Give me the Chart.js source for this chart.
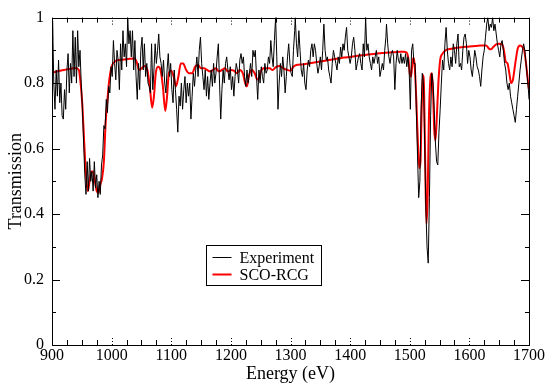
<!DOCTYPE html>
<html>
<head>
<meta charset="utf-8">
<script src="https://cdn.jsdelivr.net/npm/chart.js@4.4.1/dist/chart.umd.min.js"></script>
<style>
html,body{margin:0;padding:0;background:#fff;}
#wrap{width:550px;height:385px;position:relative;}
</style>
</head>
<body>
<div id="wrap"><canvas id="c" width="550" height="385"></canvas></div>
<script>
// ---- data ----
const expEnergy = [900,901,903,905,907,909,911,913,915,917,919,921,923,925,927,929,931,933,935,937,939,941,943,945,947,949,951,953,955,957,959,961,963,965,967,969,971,973,975,977,979,981,983,985,987,989,991,993,995,997,999,
1001,1003,1005,1007,1009,1011,1013,1015,1017,1019,1021,1023,1025,1027,1029,1031,1033,1035,1037,1039,1041,1043,1045,1047,1049,1051,1053,1055,1057,1059,1061,1063,1065,1067,1069,1071,1073,1075,1077,1079,1081,1083,1085,1087,1089,1091,1093,1095,1097,1099,
1101,1103,1105,1107,1109,1111,1113,1115,1117,1119,1121,1123,1125,1127,1129,1131,1133,1135,1137,1139,1141,1143,1145,1147,1149,1151,1153,1155,1157,1159,1161,1163,1165,1167,1169,1171,1173,1175,1177,1179,1181,1183,1185,1187,1189,1191,1193,1195,1197,1199,
1201,1203,1205,1207,1209,1211,1213,1215,1217,1219,1221,1223,1225,1227,1229,1231,1233,1235,1237,1239,1241,1243,1245,1247,1249,1251,1253,1255,1257,1259,1261,1263,1265,1267,1269,1271,1273,1275,1277,1279,1281,1283,1285,1287,1289,1291,1293,1295,1297,1299,
1301,1303,1305,1307,1308,1310,1312,1314,1316,1318,1320,1322,1324,1326,1328,1330,1332,1334,1336,1338,1340,1342,1344,1346,1348,1350,1352,1354,1356,1358,1360,1362,1364,1366,1368,1370,1372,1374,1376,1378,1380,1382,1384,1386,1388,1390,1392,1394,1396,1398,
1400,1402,1404,1406,1408,1410,1412,1414,1416,1418,1420,1422,1424,1426,1428,1430,1432,1434,1436,1438,1440,1442,1444,1446,1448,1450,1452,1454,1456,1458,1460,1461,1463,1465,1467,1469,1471,1473,1475,1477,1479,1481,1483,1485,1487,1489,1491,1493,1495,1497,1499,
1501,1503,1505,1507,1509,1511,1513,1515,1517,1519,1521,1523,1525,1527,1529,1531,1533,1535,1537,1539,1541,1543,1545,1547,1549,1551,1553,1555,1557,1559,1561,1563,1565,1567,1569,1571,1573,1575,1577,1579,1581,1583,1585,1587,1589,1591,1593,1595,1597,1599,
1601,1603,1605,1607,1609,1611,1613,1615,1617,1619,1621,1623,1625,1627,1629,1631,1633,1635,1637,1639,1641,1643,1645,1647,1649,1651,1653,1655,1657,1659,1661,1663,1665,1667,1669,1671,1673,1675,1677,1679,1681,1683,1685,1687,1689,1691,1693,1695,1697,1699,1700];
const expTrans = [0.93,0.99,0.80,0.72,0.84,0.76,0.87,0.74,0.80,0.70,0.69,0.78,0.72,0.84,0.89,0.77,0.86,0.80,0.96,0.82,0.94,0.80,0.96,0.85,0.90,0.80,0.72,0.62,0.52,0.46,0.56,0.47,0.57,0.50,0.53,0.47,0.56,0.48,0.52,0.45,0.50,0.46,0.55,0.58,0.67,0.66,0.75,0.71,0.79,0.77,0.85,
0.82,0.93,0.86,0.81,0.90,0.87,0.78,0.92,0.84,0.96,0.88,0.92,0.85,1.0,0.92,0.96,0.88,0.96,0.84,0.93,0.82,0.75,0.86,0.78,0.90,0.94,0.84,0.92,0.82,0.86,0.80,0.79,0.77,0.92,0.78,0.84,0.92,0.86,0.90,0.95,0.88,0.86,0.82,0.87,0.80,0.77,0.84,0.89,0.82,0.86,
0.78,0.74,0.84,0.78,0.72,0.65,0.76,0.73,0.80,0.72,0.78,0.82,0.74,0.80,0.76,0.80,0.69,0.76,0.83,0.79,0.84,0.88,0.82,0.90,0.94,0.86,0.82,0.78,0.84,0.76,0.82,0.75,0.80,0.84,0.79,0.86,0.80,0.83,0.88,0.92,0.80,0.69,0.78,0.84,0.80,0.86,0.88,0.84,0.81,0.85,
0.78,0.82,0.76,0.82,0.86,0.84,0.80,0.87,0.89,0.86,0.88,0.82,0.79,0.84,0.80,0.83,0.86,0.82,0.90,0.88,0.90,0.82,0.75,0.84,0.80,0.85,0.82,0.80,0.86,0.83,0.84,0.88,0.86,0.93,0.88,0.85,0.93,1.0,0.88,0.72,0.80,0.86,0.82,0.88,0.84,0.77,0.82,0.88,0.92,0.86,
0.83,0.82,0.90,0.96,1.0,0.92,0.88,0.96,0.90,0.84,0.82,0.86,0.80,0.78,0.84,0.87,0.85,0.90,0.92,0.88,0.92,0.90,0.86,0.83,0.85,0.88,0.84,0.90,0.98,0.90,0.87,0.88,0.84,0.82,0.80,0.86,0.90,0.88,0.86,0.84,0.88,0.86,0.91,0.88,0.92,0.90,0.94,0.97,0.90,0.88,
0.86,0.88,0.92,0.94,0.90,0.84,0.86,0.88,0.89,0.86,0.84,0.92,0.88,1.0,0.90,0.92,0.88,0.86,0.84,0.88,0.86,0.88,0.90,0.86,0.88,0.82,0.84,0.86,0.84,0.90,0.94,0.98,0.92,0.88,0.86,0.89,0.90,0.88,0.78,0.86,0.90,0.87,0.86,0.89,0.86,0.88,0.86,0.89,0.85,0.88,0.84,
0.72,0.90,0.92,0.86,0.86,0.72,0.58,0.45,0.50,0.72,0.83,0.80,0.62,0.42,0.30,0.25,0.45,0.70,0.83,0.80,0.72,0.62,0.56,0.55,0.65,0.72,0.80,0.87,0.84,0.92,0.97,0.90,0.86,0.84,0.88,0.85,0.92,0.90,0.86,0.92,0.95,0.85,0.86,0.84,0.90,0.94,0.95,0.92,0.86,0.90,
0.88,0.84,0.82,0.86,0.90,0.88,0.85,0.84,0.82,0.79,0.84,0.88,0.90,0.94,0.98,1.0,0.96,0.98,0.97,1.0,0.96,0.98,0.95,0.92,0.90,0.88,0.92,0.93,0.90,0.86,0.84,0.80,0.78,0.80,0.76,0.74,0.72,0.70,0.68,0.72,0.76,0.80,0.84,0.87,0.90,0.92,0.90,0.86,0.82,0.78,0.75];

const modelEnergy = [900,910,920,930,940,945,948,951,954,957,960,963,966,969,972,975,978,981,984,987,990,993,996,1000,1005,1010,1020,1030,1038,1042,1046,1050,1055,1060,1064,1068,1071,1074,1078,1082,1086,1090,1093,1096,1100,1104,1108,1112,1116,1120,1125,1130,1135,1140,1145,1150,1155,1160,1165,1170,1175,1180,1185,1190,1195,1200,1205,1210,1215,1220,1224,1227,1230,1235,1240,1243,1246,1250,1255,1260,1265,1270,1275,1282,1288,1295,1300,1305,1310,1320,1330,1340,1350,1360,1370,1380,1390,1400,1410,1420,1430,1440,1450,1460,1470,1480,1490,1495,1498,1500,1502,1504,1506,1508,1511,1514,1516,1518,1520,1522,1524,1526,1528,1530,1532,1535,1537,1539,1541,1543,1545,1548,1551,1555,1560,1570,1580,1590,1600,1610,1620,1628,1633,1636,1640,1645,1650,1655,1658,1661,1664,1667,1670,1673,1677,1681,1685,1689,1692,1695,1698,1700];
const modelTrans = [0.832,0.836,0.84,0.843,0.846,0.84,0.80,0.73,0.62,0.52,0.47,0.50,0.53,0.53,0.50,0.47,0.465,0.49,0.51,0.56,0.68,0.75,0.81,0.85,0.865,0.87,0.872,0.874,0.875,0.865,0.84,0.845,0.852,0.84,0.79,0.725,0.76,0.83,0.85,0.84,0.79,0.715,0.76,0.83,0.838,0.82,0.79,0.82,0.86,0.86,0.84,0.83,0.83,0.85,0.855,0.845,0.845,0.84,0.835,0.84,0.845,0.835,0.84,0.845,0.835,0.84,0.838,0.83,0.84,0.83,0.80,0.79,0.82,0.84,0.83,0.815,0.81,0.835,0.845,0.845,0.845,0.84,0.848,0.852,0.845,0.84,0.838,0.85,0.855,0.857,0.86,0.863,0.866,0.869,0.872,0.875,0.878,0.88,0.883,0.885,0.887,0.889,0.891,0.893,0.894,0.895,0.896,0.893,0.87,0.83,0.82,0.85,0.877,0.86,0.75,0.60,0.54,0.56,0.72,0.825,0.78,0.55,0.37,0.45,0.68,0.82,0.83,0.78,0.66,0.625,0.68,0.80,0.87,0.89,0.90,0.905,0.908,0.91,0.912,0.913,0.915,0.915,0.905,0.903,0.91,0.918,0.92,0.918,0.90,0.865,0.86,0.83,0.80,0.81,0.86,0.905,0.915,0.91,0.90,0.86,0.81,0.78];

const xMajorTicks = [900,1000,1100,1200,1300,1400,1500,1600,1700];
const xMinorTicks = [925,950,975,1025,1050,1075,1125,1150,1175,1225,1250,1275,1325,1350,1375,1425,1450,1475,1525,1550,1575,1625,1650,1675];
const yMajorTicks = [0,0.2,0.4,0.6,0.8,1];
const yMinorTicks = [0.1,0.3,0.5,0.7,0.9];
const seriesNames = ['Experiment','SCO-RCG'];
const xTitle = 'Energy (eV)';
const yTitle = 'Transmission';

const FONT = '"Liberation Serif","Times New Roman",serif';

const expPts = expEnergy.map((e,i)=>({x:e,y:expTrans[i]}));
const modPts = modelEnergy.map((e,i)=>({x:e,y:modelTrans[i]}));

const framePlugin = {
  id:'frame',
  afterDraw(chart){
    const ctx = chart.ctx, a = chart.chartArea;
    const xs = chart.scales.x, ys = chart.scales.y;
    ctx.save();
    ctx.strokeStyle = '#000';
    ctx.lineWidth = 1;
    ctx.strokeRect(Math.round(a.left)+0.5, Math.round(a.top)+0.5, Math.round(a.right-a.left), Math.round(a.bottom-a.top));
    ctx.beginPath();
    xMinorTicks.forEach(v=>{
      const px = Math.round(xs.getPixelForValue(v))+0.5;
      ctx.moveTo(px,a.bottom); ctx.lineTo(px,a.bottom-5);
      ctx.moveTo(px,a.top); ctx.lineTo(px,a.top+5);
    });
    ctx.stroke();
    ctx.setLineDash([1,2]);
    ctx.beginPath();
    xMajorTicks.forEach(v=>{
      const px = Math.round(xs.getPixelForValue(v))+0.5;
      ctx.moveTo(px,a.bottom); ctx.lineTo(px,a.bottom-9);
      ctx.moveTo(px,a.top); ctx.lineTo(px,a.top+9);
    });
    ctx.stroke();
    ctx.setLineDash([]);
    ctx.beginPath();
    yMajorTicks.forEach(v=>{
      const py = Math.round(ys.getPixelForValue(v))+0.5;
      ctx.moveTo(a.left,py); ctx.lineTo(a.left+8,py);
      ctx.moveTo(a.right,py); ctx.lineTo(a.right-8,py);
    });
    yMinorTicks.forEach(v=>{
      const py = Math.round(ys.getPixelForValue(v))+0.5;
      ctx.moveTo(a.left,py); ctx.lineTo(a.left+4,py);
      ctx.moveTo(a.right,py); ctx.lineTo(a.right-4,py);
    });
    ctx.stroke();
    const lx = 206.5, ly = 245.5, lw = 115, lh = 40;
    ctx.fillStyle = '#fff';
    ctx.fillRect(lx,ly,lw,lh);
    ctx.strokeRect(lx,ly,lw,lh);
    const colors = ['#000','#ff0000'], widths = [1,2];
    seriesNames.forEach((n,i)=>{
      const yy = ly + 12 + i*17;
      ctx.strokeStyle = colors[i]; ctx.lineWidth = widths[i];
      ctx.beginPath(); ctx.moveTo(lx+6,yy); ctx.lineTo(lx+25,yy); ctx.stroke();
      ctx.fillStyle = '#000';
      ctx.font = '16px ' + FONT;
      ctx.textBaseline = 'middle';
      ctx.textAlign = 'left';
      ctx.fillText(n, lx+33, yy+1);
    });
    ctx.restore();
  }
};

new Chart(document.getElementById('c'), {
  type:'line',
  data:{
    datasets:[
      {label:seriesNames[0], data:expPts, borderColor:'#000', borderWidth:1, pointRadius:0, tension:0, fill:false},
      {label:seriesNames[1], data:modPts, borderColor:'#ff0000', borderWidth:2, pointRadius:0, cubicInterpolationMode:'monotone', fill:false}
    ]
  },
  options:{
    responsive:false,
    animation:false,
    events:[],
    layout:{padding:{top:12,right:21,left:0,bottom:0}},
    plugins:{legend:{display:false}, tooltip:{enabled:false}},
    scales:{
      x:{
        type:'linear', min:900, max:1700,
        grid:{display:false, drawTicks:false},
        border:{display:false},
        ticks:{stepSize:100, padding:1, color:'#000', font:{family:FONT,size:16}, maxRotation:0, callback:v=>String(v)},
        title:{display:true, text:xTitle, color:'#000', font:{family:FONT,size:18}, padding:{top:0,bottom:0}},
        afterFit(s){ s.height = 40; }
      },
      y:{
        type:'linear', min:0, max:1,
        grid:{display:false, drawTicks:false},
        border:{display:false},
        ticks:{stepSize:0.2, padding:8, color:'#000', font:{family:FONT,size:16}, callback:v=>String(Math.round(v*10)/10)},
        title:{display:true, text:yTitle, color:'#000', font:{family:FONT,size:18}, padding:{top:5,bottom:0}},
        afterFit(s){ s.width = 52; }
      }
    }
  },
  plugins:[framePlugin]
});
</script>
</body>
</html>
